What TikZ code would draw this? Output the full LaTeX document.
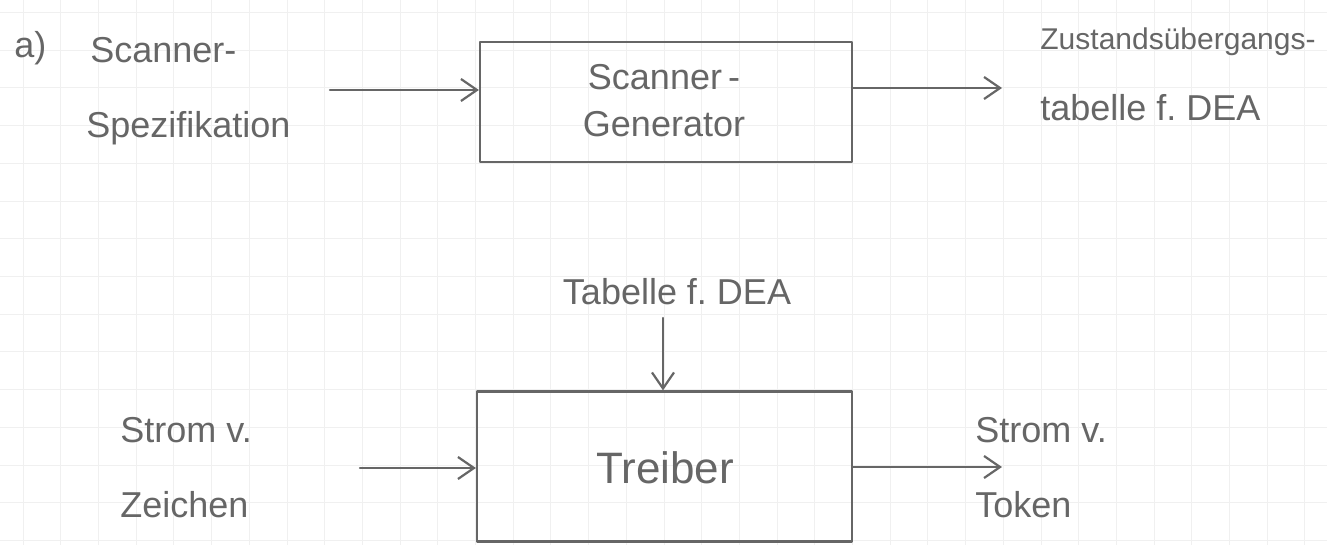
\documentclass[tikz,border=0pt]{standalone}
\usepackage{fontspec}
\setmainfont{Liberation Sans}
\usetikzlibrary{arrows.meta}
\frenchspacing
\definecolor{pencil}{HTML}{666666}
\definecolor{gridc}{HTML}{F0F0F0}
\tikzset{
  pen/.style={draw=pencil, line width=1.1pt, line cap=round, line join=round},
  arr/.style={pen, -{Straight Barb[length=8pt,width=11pt,line width=1.1pt]}},
  blockbox/.style={pen, rectangle, inner sep=0pt},
  hand/.style={text=pencil, inner sep=0pt, font=\fontsize{18}{22}\selectfont},
}
\begin{document}
\begin{tikzpicture}[x=0.5pt,y=-0.5pt]
\useasboundingbox (0,0) rectangle (1327,545);
\fill[white] (0,0) rectangle (1327,545);
% grid paper
\foreach \i in {0,...,35} {\draw[gridc, line width=0.4pt] ({23+37.7*\i},0) -- ({23+37.7*\i},545);}
\foreach \j in {0,...,14} {\draw[gridc, line width=0.4pt] (0,{12.5+37.7*\j}) -- (1327,{12.5+37.7*\j});}

% top part
\node[hand, anchor=west] (lbl) at (14,48) {a)};
\node[hand, anchor=west] (spec1) at (90,50) {Scanner-};
\node[hand, anchor=west] (spec2) at (86,128) {Spezifikation};
\node[blockbox, minimum width=186pt, minimum height=60pt] (gen) at (666,102) {};
\node[hand] (gen1) at (664,77) {Scanner\,-};
\node[hand] (gen2) at (664,124) {Generator};
\node[hand, anchor=west, font=\fontsize{15}{18}\selectfont] (out1) at (1040,42) {Zustandsübergangs-};
\node[hand, anchor=west] (out2) at (1040,108) {tabelle f. DEA};
\coordinate (c1) at (330,90);
\coordinate (c2) at (1002,88);
\draw[arr] (c1) -- (c1 -| gen.west);
\draw[arr] (c2 -| gen.east) -- (c2);

% bottom part
\node[hand] (tab) at (677,292) {Tabelle f. DEA};
\node[blockbox, minimum width=187.5pt, minimum height=75pt] (drv) at (664.5,466.5) {};
\node[hand, font=\fontsize{22}{26}\selectfont] (drvt) at (665,468) {Treiber};
\node[hand, anchor=west] (in1) at (120,430) {Strom v.};
\node[hand, anchor=west] (in2) at (120,505) {Zeichen};
\node[hand, anchor=west] (o1) at (975,430) {Strom v.};
\node[hand, anchor=west] (o2) at (975,505) {Token};
\coordinate (c3) at (663,318);
\coordinate (c4) at (360,468);
\coordinate (c5) at (1002,467);
\draw[arr] (c3) -- (c3 |- drv.north);
\draw[arr] (c4) -- (c4 -| drv.west);
\draw[arr] (c5 -| drv.east) -- (c5);
\end{tikzpicture}
\end{document}
